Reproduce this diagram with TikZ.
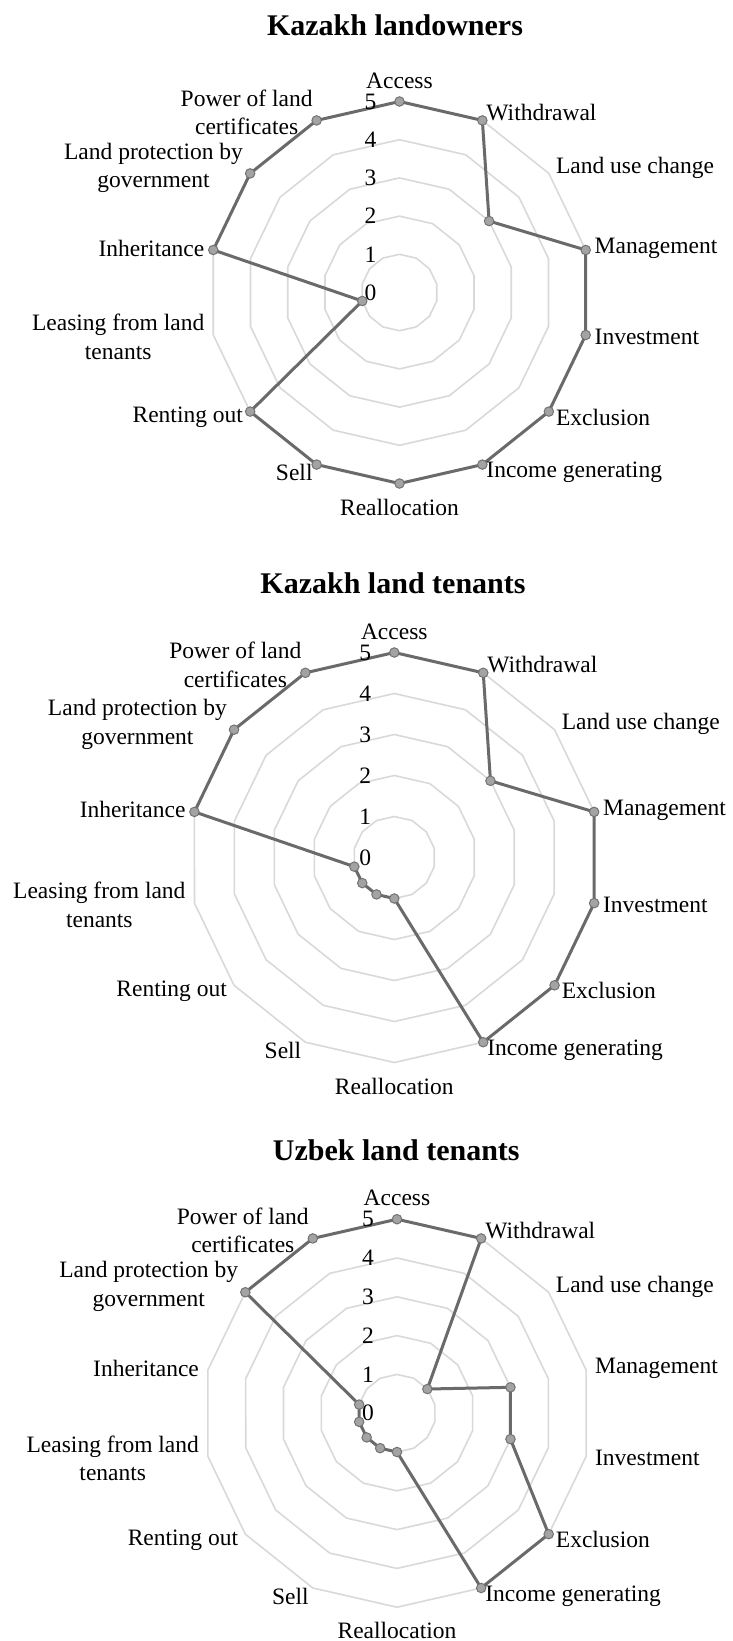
\documentclass[tikz,border=0pt]{standalone}
\usepackage{fontspec}
\setmainfont{Liberation Serif}

\definecolor{gridgray}{HTML}{D9D9D9}
\definecolor{seriesline}{HTML}{6A6A6A}
\definecolor{markerfill}{HTML}{A3A3A3}
\definecolor{markeredge}{HTML}{737373}

\newcommand\labelfont{\fontsize{23.5}{28.6}\selectfont}
\newcommand\titlefont{\fontsize{30}{36}\selectfont\bfseries}

\tikzset{
  ring/.style={draw=gridgray, line width=1.6pt, line join=round},
  series/.style={draw=seriesline, line width=3pt, line join=round},
  marker/.style={circle, draw=markeredge, fill=markerfill, line width=1pt,
                 minimum size=9.5pt, inner sep=0pt},
  catlabel/.style={inner sep=0pt, font=\labelfont, align=center},
  valuelabel/.style={inner sep=0pt, font=\labelfont},
  charttitle/.style={inner sep=0pt, font=\titlefont},
}

% #1 prefix, #2 centre x, #3 centre y, #4 length of one unit,
% #5 the fourteen scores, #6 title x, #7 title y, #8 title
\newcommand\drawradar[8]{%
  \begin{scope}[shift={(#2,#3)}]
    % grid rings for the scores 1 to 5
    \foreach \k in {1,...,5}{
      \draw[ring] (90:{\k*#4}) \foreach \j in {1,...,13}{ -- ({90-\j*360/14}:{\k*#4})} -- cycle;
    }
    % data points
    \foreach \v [count=\n from 0] in {#5}{
      \coordinate (#1-\n) at ({90-\n*360/14}:{\v*#4});
    }
    \draw[series] (#1-0) \foreach \j in {1,...,13}{ -- (#1-\j)} -- cycle;
    \foreach \n in {0,...,13}{
      \node[marker] (#1-m\n) at (#1-\n) {};
    }
    % value axis
    \foreach \k in {0,...,5}{
      \node[valuelabel] (#1-v\k) at (-29,{\k*#4}) {\k};
    }
    % category names
    \foreach \n/\name/\anc/\d in {
        0/Access/south/13,
        1/Withdrawal/west/9,
        2/Land use change/west/9,
        3/Management/west/9,
        4/Investment/west/9,
        5/Exclusion/west/9,
        6/Income generating/west/9,
        7/Reallocation/north/15,
        8/Sell/east/9,
        9/Renting out/east/9,
        10/{Leasing from land\\tenants}/east/9,
        11/Inheritance/east/9,
        12/{Land protection by\\government}/east/9,
        13/{Power of land\\certificates}/east/9}{
      \node[catlabel, anchor=\anc] (#1-c\n) at ({90-\n*360/14}:{5*#4+\d}) {\name};
    }
  \end{scope}
  \node[charttitle] (#1-title) at (#6,#7) {#8};
}

\begin{document}
\begin{tikzpicture}[x=1pt, y=1pt]
  \useasboundingbox[fill=white] (0,0) rectangle (733,-1641);

  \drawradar{ko}{399.5}{-292.5}{38.2}{5,5,3,5,5,5,5,5,5,5,1,5,5,5}{395}{-25}{Kazakh landowners}
  \drawradar{kt}{394.3}{-857.5}{41}{5,5,3,5,5,5,5,1,1,1,1,5,5,5}{393}{-583.6}{Kazakh land tenants}
  \drawradar{ut}{397}{-1413.2}{38.8}{5,5,1,3,3,5,5,1,1,1,1,1,5,5}{396.3}{-1150}{Uzbek land tenants}
\end{tikzpicture}
\end{document}
